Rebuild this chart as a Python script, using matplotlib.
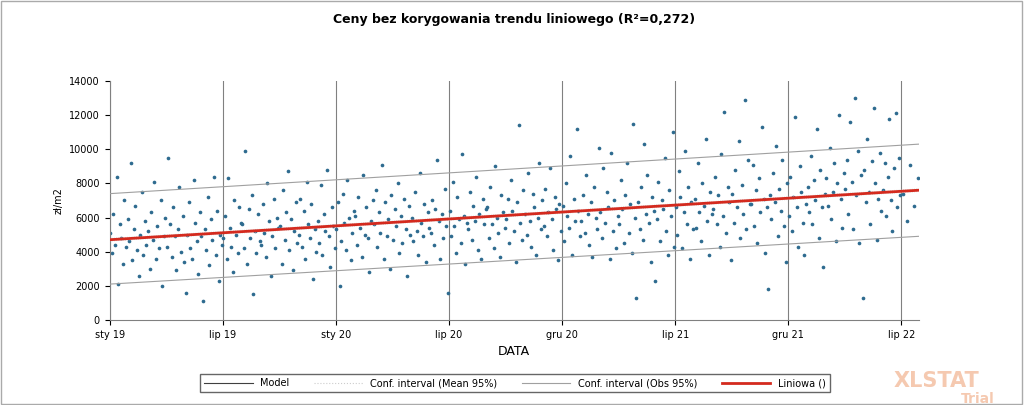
import numpy as np
import matplotlib.pyplot as plt

# price per month bucket (zł/m2), read approx from the chart, Jan 2019 .. Jul 2022
months = [
    [5100,3900,6200,4400,8400,2100,5600,4800,3300,7000,4300,5900],
    [4600,9200,3500,5300,6700,4100,2600,5000,7500,3800,5800,4400],
    [5200,3000,6300,4700,8100,3600,5500,4200,7000,2000,4900,6000],
    [4300,9500,5600,3700,6600,4900,2900,5300,7800,4000,6100,3400],
    [1600,5000,6900,4200,3600,8200,5700,4600,2700,6300,4900,1100],
    [5300,4100,7200,3200,5900,4700,8400,3800,6400,2300,5000,4400],
    [4800,6100,3600,8300,5400,4300,2800,7000,5000,3900,6600,5700],
    [5600,4200,9900,3300,6500,4800,7300,1500,5200,3900,6200,4600],
    [4400,6800,5100,3700,8000,5800,2600,4900,7100,4200,6000,5400],
    [5500,3300,7600,4700,6300,8700,4100,5900,2900,5200,6900,4500],
    [5000,7100,4300,6400,3600,8100,5600,4800,6800,2400,5300,4000],
    [5800,4500,7900,3800,6200,5200,8800,4900,3100,6600,5500,4200],
    [5300,6900,2000,4600,7400,5700,4100,8200,6000,3500,5100,6400],
    [6100,4400,7200,5400,3700,8500,5000,6600,4800,2800,5800,7000],
    [5600,7600,4300,6300,5100,9100,3600,6900,4900,5900,3000,7300],
    [4700,6500,5500,8000,3900,6100,4500,7100,5300,2600,6700,5000],
    [6000,4600,7500,5200,3800,8600,5700,4900,6800,3400,6300,5400],
    [5100,7000,4400,6500,9400,5800,3600,6200,4800,7700,5500,1600],
    [6400,4900,8100,5500,3900,7200,5900,4500,9700,6100,3300,5700],
    [5300,7500,4700,6700,5800,8400,4100,6200,3600,7100,5600,6500],
    [6600,4800,7800,5600,4200,9000,6000,5100,3700,7300,6300,5400],
    [5900,7100,4500,8200,6400,5200,3400,6900,11400,5700,4700,7600],
    [6200,5000,8600,5800,4300,7400,6600,3800,6000,9200,5300,7000],
    [5500,7700,4900,6300,8900,5900,4100,7200,6500,3500,6800,5200],
    [6700,4600,8000,6100,5400,9600,3800,7100,5800,11200,6400,4900],
    [5800,7300,5100,8500,6200,4400,6900,3700,7800,6000,5300,10100],
    [6300,4800,8900,5700,7500,6600,3600,9800,5200,7000,4200,6100],
    [5600,8200,6500,4500,7300,9200,5100,6800,3900,11500,6000,1300],
    [6900,5300,7800,4700,10300,6200,8500,5700,3400,7200,6400,2300],
    [5900,8100,4600,7000,6500,9500,5200,3800,7600,6100,11000,4300],
    [6600,5000,8700,7200,4200,6300,9900,5600,7800,3600,6900,5300],
    [7100,5400,9200,6300,4600,8000,6700,10600,5800,3800,7500,6200],
    [6500,8400,5600,7300,4300,9700,6100,12200,5100,7800,6900,3500],
    [7400,5700,8800,6600,10500,4800,7900,6200,12900,5300,9400,6800],
    [6800,9100,5500,7600,4500,8300,6300,11300,7100,3900,6600,1800],
    [7300,5900,8600,6900,10200,4900,7700,6400,9400,5500,3400,8000],
    [6100,8400,5200,7200,11900,6600,4300,9000,7500,5700,3800,6800],
    [7800,6300,9600,5600,8200,7000,11200,4800,8800,6600,3100,7400],
    [8300,6700,10100,5900,7500,9200,4600,8000,12000,7100,5400,8600],
    [7700,9400,6200,11600,8100,5300,13000,7300,9900,4500,8500,1300],
    [8800,6900,10600,7500,5600,9300,12400,8000,4700,7100,9800,6400],
    [7600,9200,6100,8400,11800,7000,5200,8900,12100,6600,9500,7300],
    [7400,5800,9100,6700,8300],
]
tick_labels = ["sty 19", "lip 19", "sty 20", "lip 20", "gru 20", "lip 21", "gru 21", "lip 22"]
trend_start, trend_end = 4700, 7600
obs_lo = [2100, 4900]
obs_hi = [7400, 10300]

mlen = 30.4
xs, ys = [], []
for m, vals in enumerate(months):
    n = len(vals)
    for i, v in enumerate(vals):
        xs.append(m * mlen + (i + 0.5) * mlen / n)
        ys.append(v)

xmax = 1305
fig = plt.figure(figsize=(10.24, 4.05), dpi=100)
fig.patches.append(plt.Rectangle((0.001, 0.002), 0.997, 0.995, transform=fig.transFigure,
                                 fill=False, edgecolor="#aaaaaa", linewidth=1))
ax = fig.add_axes([0.107, 0.21, 0.79, 0.59])

ax.scatter(xs, ys, s=7, color="#2e6b8f", zorder=2, linewidths=0)
ax.plot([0, xmax], [trend_start, trend_end], color="#404040", lw=0.8, zorder=3)
ax.plot([0, xmax], [trend_start - 80, trend_end - 80], color="#cccccc", lw=0.6, ls=":", zorder=3)
ax.plot([0, xmax], [trend_start + 80, trend_end + 80], color="#cccccc", lw=0.6, ls=":", zorder=3)
ax.plot([0, xmax], obs_lo, color="#a0a0a0", lw=0.8, zorder=3)
ax.plot([0, xmax], obs_hi, color="#a0a0a0", lw=0.8, zorder=3)
ax.plot([0, xmax], [trend_start, trend_end], color="#d42a1e", lw=2, zorder=4)

ticks = np.arange(len(tick_labels)) * 182.5
ax.set_xticks(ticks)
ax.set_xticklabels(tick_labels, fontsize=7)
ax.set_xlim(0, xmax)
ax.set_ylim(0, 14000)
ax.set_yticks(range(0, 14001, 2000))
ax.tick_params(axis="y", labelsize=7)
ax.grid(axis="x", color="#808080", lw=0.8)
ax.set_axisbelow(True)
for s in ["top", "right"]:
    ax.spines[s].set_visible(False)
ax.spines["left"].set_color("#808080")
ax.spines["bottom"].set_color("#808080")
ax.set_xlabel("DATA", fontsize=9)
ax.set_ylabel("zł/m2", fontsize=7)
ax.set_title("Ceny bez korygowania trendu liniowego (R²=0,272)", fontsize=9, fontweight="bold", pad=42)

handles = [
    plt.Line2D([], [], color="#404040", lw=0.8),
    plt.Line2D([], [], color="#cccccc", lw=0.8, ls=":"),
    plt.Line2D([], [], color="#a0a0a0", lw=0.8),
    plt.Line2D([], [], color="#d42a1e", lw=2),
]
leg = fig.legend(handles, ["Model", "Conf. interval (Mean 95%)", "Conf. interval (Obs 95%)", "Liniowa ()"],
                 loc="center", bbox_to_anchor=(0.503, 0.054), ncol=4, fontsize=7, frameon=True,
                 fancybox=False, edgecolor="#404040", handlelength=5, columnspacing=2.5)
fig.text(0.915, 0.045, "XLSTAT", fontsize=15, fontweight="bold", color="#f5c9b0", ha="center")
fig.text(0.955, 0.005, "Trial", fontsize=10, fontweight="bold", color="#f5c9b0", ha="center")

fig.savefig("out.png")
